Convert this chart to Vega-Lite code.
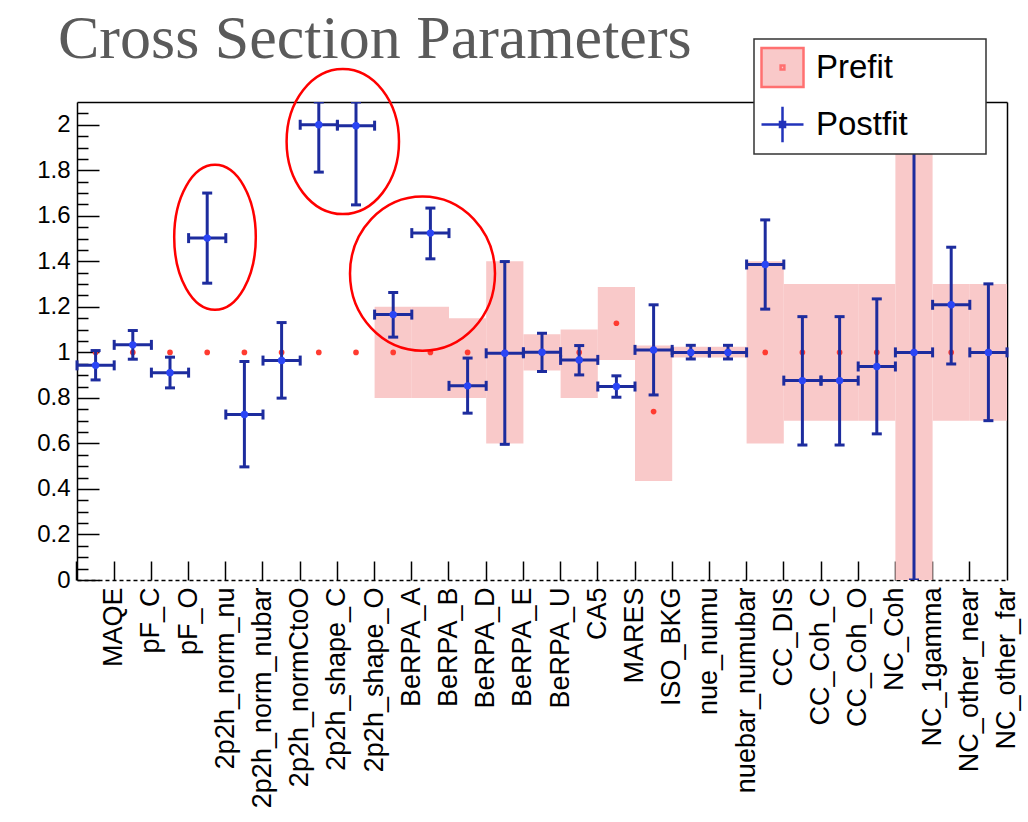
{
  "$schema": "https://vega.github.io/schema/vega-lite/v6.json",
  "width": 930,
  "height": 478,
  "autosize": "none",
  "padding": {"left": 77, "top": 102, "right": 21, "bottom": 242},
  "background": "white",
  "title": {
    "text": "Cross Section Parameters",
    "anchor": "start",
    "frame": "group",
    "font": "Liberation Serif",
    "fontSize": 62,
    "fontWeight": "normal",
    "color": "#5a5a5a",
    "baseline": "alphabetic",
    "dx": -19,
    "offset": -82
  },
  "datasets": {
    "params": [
      {"param": "MAQE", "post": 0.943, "lo": 0.879, "hi": 1.008, "pre": 1},
      {"param": "pF_C", "post": 1.033, "lo": 0.970, "hi": 1.096, "pre": 1},
      {"param": "pF_O", "post": 0.911, "lo": 0.844, "hi": 0.979, "pre": 1},
      {"param": "2p2h_norm_nu", "post": 1.502, "lo": 1.304, "hi": 1.700, "pre": 1},
      {"param": "2p2h_norm_nubar", "post": 0.727, "lo": 0.497, "hi": 0.960, "pre": 1},
      {"param": "2p2h_normCtoO", "post": 0.964, "lo": 0.799, "hi": 1.131, "pre": 1},
      {"param": "2p2h_shape_C", "post": 2.0, "lo": 1.792, "hi": 2.1, "pre": 1},
      {"param": "2p2h_shape_O", "post": 1.996, "lo": 1.648, "hi": 2.1, "pre": 1},
      {"param": "BeRPA_A", "post": 1.166, "lo": 1.067, "hi": 1.263, "pre": 1, "preLo": 0.8, "preHi": 1.2},
      {"param": "BeRPA_B", "post": 1.524, "lo": 1.411, "hi": 1.634, "pre": 1, "preLo": 0.8, "preHi": 1.2},
      {"param": "BeRPA_D", "post": 0.853, "lo": 0.733, "hi": 0.975, "pre": 1, "preLo": 0.8, "preHi": 1.15},
      {"param": "BeRPA_E", "post": 0.996, "lo": 0.596, "hi": 1.399, "pre": 1, "preLo": 0.6, "preHi": 1.4},
      {"param": "BeRPA_U", "post": 1.001, "lo": 0.916, "hi": 1.084, "pre": 1, "preLo": 0.92, "preHi": 1.08},
      {"param": "CA5", "post": 0.967, "lo": 0.901, "hi": 1.03, "pre": 1, "preLo": 0.8, "preHi": 1.1},
      {"param": "MARES", "post": 0.85, "lo": 0.803, "hi": 0.897, "pre": 1.128, "preLo": 0.967, "preHi": 1.287},
      {"param": "ISO_BKG", "post": 1.011, "lo": 0.813, "hi": 1.209, "pre": 0.74, "preLo": 0.435, "preHi": 1.03},
      {"param": "nue_numu", "post": 1.0, "lo": 0.971, "hi": 1.031, "pre": 1, "preLo": 0.977, "preHi": 1.025},
      {"param": "nuebar_numubar", "post": 1.0, "lo": 0.971, "hi": 1.031, "pre": 1, "preLo": 0.977, "preHi": 1.025},
      {"param": "CC_DIS", "post": 1.386, "lo": 1.19, "hi": 1.582, "pre": 1, "preLo": 0.6, "preHi": 1.4},
      {"param": "CC_Coh_C", "post": 0.876, "lo": 0.593, "hi": 1.157, "pre": 1, "preLo": 0.7, "preHi": 1.3},
      {"param": "CC_Coh_O", "post": 0.876, "lo": 0.593, "hi": 1.157, "pre": 1, "preLo": 0.7, "preHi": 1.3},
      {"param": "NC_Coh", "post": 0.938, "lo": 0.642, "hi": 1.235, "pre": 1, "preLo": 0.7, "preHi": 1.3},
      {"param": "NC_1gamma", "post": 1.0, "lo": 0.0, "hi": 2.0, "pre": 1, "preLo": 0.0, "preHi": 2.0},
      {"param": "NC_other_near", "post": 1.209, "lo": 0.949, "hi": 1.462, "pre": 1, "preLo": 0.7, "preHi": 1.3},
      {"param": "NC_other_far", "post": 1.0, "lo": 0.70, "hi": 1.301, "pre": 1, "preLo": 0.7, "preHi": 1.3}
    ],
    "rings": [
      {"ring": "a", "param": "2p2h_norm_nu", "y": 1.5055},
      {"ring": "b", "param": "2p2h_shape_C", "y": 1.926},
      {"ring": "c", "param": "BeRPA_A", "y": 1.346}
    ]
  },
  "data": {"name": "params"},
  "layer": [
    {
      "transform": [{"filter": "isValid(datum.preLo)"}],
      "mark": {"type": "bar", "fill": "#f9c9c9", "stroke": null},
      "encoding": {
        "x": {
          "field": "param",
          "type": "nominal",
          "scale": {
            "domain": ["MAQE", "pF_C", "pF_O", "2p2h_norm_nu", "2p2h_norm_nubar", "2p2h_normCtoO", "2p2h_shape_C", "2p2h_shape_O", "BeRPA_A", "BeRPA_B", "BeRPA_D", "BeRPA_E", "BeRPA_U", "CA5", "MARES", "ISO_BKG", "nue_numu", "nuebar_numubar", "CC_DIS", "CC_Coh_C", "CC_Coh_O", "NC_Coh", "NC_1gamma", "NC_other_near", "NC_other_far"],
            "paddingInner": 0,
            "paddingOuter": 0
          },
          "axis": {
            "orient": "bottom",
            "title": null,
            "bandPosition": 0,
            "tickSize": -19,
            "tickWidth": 1.5,
            "tickColor": "black",
            "domainColor": "black",
            "domainWidth": 1.5,
            "domainDash": [4, 3],
            "labelAngle": -90,
            "labelAlign": "right",
            "labelBaseline": "middle",
            "labelFont": "Liberation Sans",
            "labelFontSize": 27,
            "labelColor": "black",
            "labelPadding": 26,
            "labelOffset": 18.6,
            "labelOverlap": false,
            "labelLimit": 400,
            "grid": false
          }
        },
        "y": {
          "field": "preLo",
          "type": "quantitative",
          "scale": {"domain": [0, 2.1], "nice": false, "zero": false},
          "axis": {
            "orient": "left",
            "title": null,
            "values": [0, 0.2, 0.4, 0.6, 0.8, 1, 1.2, 1.4, 1.6, 1.8, 2],
            "ticks": false,
            "domainColor": "black",
            "domainWidth": 1.5,
            "labelFont": "Liberation Sans",
            "labelFontSize": 24,
            "labelColor": "black",
            "labelPadding": 7,
            "labelOverlap": false,
            "labelExpr": "format(datum.value, '~g')",
            "grid": false
          }
        },
        "y2": {"field": "preHi"}
      }
    },
    {
      "mark": {"type": "point", "filled": true, "size": 32, "opacity": 1, "color": "#ff3b30"},
      "encoding": {
        "x": {"field": "param", "type": "nominal", "axis": null},
        "y": {
          "field": "pre",
          "type": "quantitative",
          "axis": {
            "orient": "left",
            "title": null,
            "offset": -22,
            "values": [0, 0.2, 0.4, 0.6, 0.8, 1, 1.2, 1.4, 1.6, 1.8, 2],
            "tickSize": 22,
            "tickWidth": 1.5,
            "tickColor": "black",
            "domain": false,
            "labels": false,
            "grid": false
          }
        }
      }
    },
    {
      "mark": {"type": "bar", "fill": null, "stroke": "#1d2c9e", "strokeWidth": 3},
      "encoding": {
        "x": {"field": "param", "type": "nominal", "axis": null},
        "y": {
          "field": "post",
          "type": "quantitative",
          "axis": {
            "orient": "left",
            "title": null,
            "offset": -11,
            "values": [0.05, 0.1, 0.15, 0.25, 0.3, 0.35, 0.45, 0.5, 0.55, 0.65, 0.7, 0.75, 0.85, 0.9, 0.95, 1.05, 1.1, 1.15, 1.25, 1.3, 1.35, 1.45, 1.5, 1.55, 1.65, 1.7, 1.75, 1.85, 1.9, 1.95, 2.05],
            "tickSize": 11,
            "tickWidth": 1.5,
            "tickColor": "black",
            "domain": false,
            "labels": false,
            "grid": false
          }
        },
        "y2": {"field": "post"}
      }
    },
    {
      "mark": {"type": "point", "shape": "M0,-1V1", "size": 100, "filled": false, "stroke": "#1d2c9e", "strokeWidth": 3, "opacity": 1},
      "encoding": {
        "x": {"field": "param", "type": "nominal", "bandPosition": 0, "axis": null},
        "y": {"field": "post", "type": "quantitative", "axis": null}
      }
    },
    {
      "mark": {"type": "point", "shape": "M0,-1V1", "size": 100, "filled": false, "stroke": "#1d2c9e", "strokeWidth": 3, "opacity": 1},
      "encoding": {
        "x": {"field": "param", "type": "nominal", "bandPosition": 1, "axis": null},
        "y": {"field": "post", "type": "quantitative", "axis": null}
      }
    },
    {
      "mark": {"type": "rule", "stroke": "#1d2c9e", "strokeWidth": 3, "clip": true},
      "encoding": {
        "x": {"field": "param", "type": "nominal", "axis": null},
        "y": {"field": "lo", "type": "quantitative", "axis": null},
        "y2": {"field": "hi"}
      }
    },
    {
      "mark": {"type": "point", "shape": "M-1,0H1", "size": 100, "filled": false, "stroke": "#1d2c9e", "strokeWidth": 3, "opacity": 1, "clip": true},
      "encoding": {
        "x": {"field": "param", "type": "nominal", "axis": null},
        "y": {"field": "lo", "type": "quantitative", "axis": null}
      }
    },
    {
      "mark": {"type": "point", "shape": "M-1,0H1", "size": 100, "filled": false, "stroke": "#1d2c9e", "strokeWidth": 3, "opacity": 1, "clip": true},
      "encoding": {
        "x": {"field": "param", "type": "nominal", "axis": null},
        "y": {"field": "hi", "type": "quantitative", "axis": null}
      }
    },
    {
      "mark": {"type": "point", "filled": true, "size": 55, "opacity": 1, "color": "#2a45f5"},
      "encoding": {
        "x": {
          "field": "param",
          "type": "nominal",
          "axis": {"orient": "top", "title": null, "ticks": false, "labels": false, "grid": false, "domainColor": "black", "domainWidth": 1.5}
        },
        "y": {
          "field": "post",
          "type": "quantitative",
          "axis": {"orient": "right", "title": null, "ticks": false, "labels": false, "grid": false, "domainColor": "black", "domainWidth": 1.5}
        }
      }
    },
    {
      "data": {"name": "rings"},
      "transform": [{"filter": "datum.ring === 'a'"}],
      "mark": {"type": "point", "filled": false, "size": 400, "stroke": "#ff0000", "strokeWidth": 2.5, "opacity": 1,
        "shape": "M4.86,0C4.86,4.004 3.033,7.25 0.78,7.25C-1.473,7.25 -3.3,4.004 -3.3,0C-3.3,-4.004 -1.473,-7.25 0.78,-7.25C3.033,-7.25 4.86,-4.004 4.86,0Z"},
      "encoding": {
        "x": {"field": "param", "type": "nominal", "axis": null},
        "y": {"field": "y", "type": "quantitative", "axis": null}
      }
    },
    {
      "data": {"name": "rings"},
      "transform": [{"filter": "datum.ring === 'b'"}],
      "mark": {"type": "point", "filled": false, "size": 400, "stroke": "#ff0000", "strokeWidth": 2.5, "opacity": 1,
        "shape": "M8.02,0C8.02,4.004 5.504,7.25 2.4,7.25C-0.704,7.25 -3.22,4.004 -3.22,0C-3.22,-4.004 -0.704,-7.25 2.4,-7.25C5.504,-7.25 8.02,-4.004 8.02,0Z"},
      "encoding": {
        "x": {"field": "param", "type": "nominal", "axis": null},
        "y": {"field": "y", "type": "quantitative", "axis": null}
      }
    },
    {
      "data": {"name": "rings"},
      "transform": [{"filter": "datum.ring === 'c'"}],
      "mark": {"type": "point", "filled": false, "size": 400, "stroke": "#ff0000", "strokeWidth": 2.5, "opacity": 1,
        "shape": "M10.18,0C10.18,4.264 6.934,7.72 2.93,7.72C-1.074,7.72 -4.32,4.264 -4.32,0C-4.32,-4.264 -1.074,-7.72 2.93,-7.72C6.934,-7.72 10.18,-4.264 10.18,0Z"},
      "encoding": {
        "x": {"field": "param", "type": "nominal", "axis": null},
        "y": {"field": "y", "type": "quantitative", "axis": null}
      }
    },
    {
      "data": {"values": []},
      "mark": {"type": "point", "filled": true, "size": 1764, "strokeWidth": 2.5, "opacity": 1},
      "encoding": {
        "shape": {
          "field": "series",
          "type": "nominal",
          "scale": {
            "domain": ["Prefit", "Postfit"],
            "range": [
              "M-1,-0.93H1V0.93H-1Z M-0.09,-0.09H0.09V0.09H-0.09Z",
              "M-1,0H1M0,-0.85V0.85 M-0.12,-0.12H0.12V0.12H-0.12Z"
            ]
          },
          "legend": {
            "title": null,
            "labelExpr": "datum.label + '\u2800\u2800\u2800'"
          }
        },
        "fill": {
          "field": "series",
          "type": "nominal",
          "scale": {"domain": ["Prefit", "Postfit"], "range": ["#f9c9c9", "#2a45f5"]},
          "legend": {
            "title": null,
            "labelExpr": "datum.label + '\u2800\u2800\u2800'"
          }
        },
        "stroke": {
          "field": "series",
          "type": "nominal",
          "scale": {"domain": ["Prefit", "Postfit"], "range": ["#ff7070", "#2233bb"]},
          "legend": {
            "title": null,
            "labelExpr": "datum.label + '\u2800\u2800\u2800'"
          }
        }
      }
    }
  ],
  "resolve": {
    "axis": {"x": "independent", "y": "independent"}
  },
  "config": {
    "view": {"stroke": null},
    "legend": {
      "orient": "none",
      "legendX": 677,
      "legendY": -63,
      "padding": 6,
      "fillColor": "white",
      "strokeColor": "#333333",
      "strokeWidth": 1.5,
      "cornerRadius": 0,
      "labelFont": "Liberation Sans",
      "labelFontSize": 33,
      "labelColor": "black",
      "labelOffset": 11,
      "labelLimit": 400,
      "rowPadding": 8,
      "symbolSize": 1764,
      "symbolStrokeWidth": 2.5
    }
  }
}
